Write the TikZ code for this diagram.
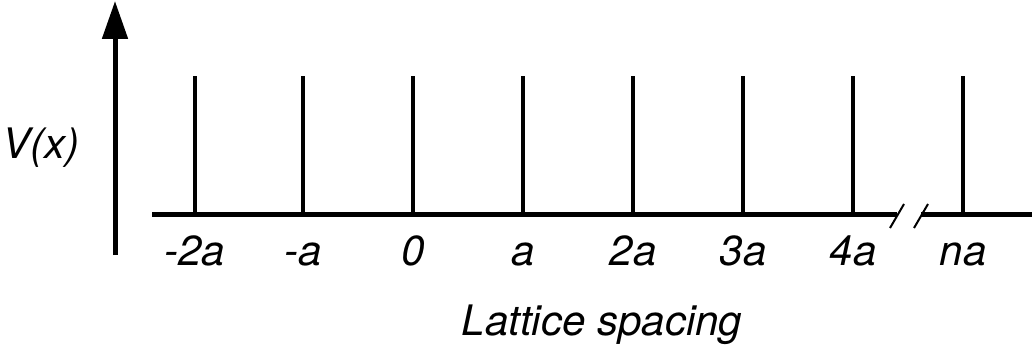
\documentclass[tikz,border=0pt]{standalone}
\usepackage{fontspec}
\setmainfont{TeX Gyre Heros}
\usetikzlibrary{arrows.meta}
\begin{document}
\begin{tikzpicture}[x=1pt,y=-1pt,
  lbl/.style={font=\fontsize{42}{48}\selectfont\itshape, anchor=base, inner sep=0pt},
  axisline/.style={line width=5pt},
  spike/.style={line width=4pt},
  brk/.style={line width=2pt},
  vaxis/.style={line width=5pt, -{Triangle[length=38pt,width=25pt]}}]
\useasboundingbox (0,0) rectangle (1032,353);
% vertical axis
\coordinate (vb) at (115,255);
\coordinate (vt) at (115,1);
\draw[vaxis] (vb) -- (vt);
\node[lbl] (vx) at (41,158) {V(x)};
% horizontal axis with break
\coordinate (h0) at (152,214);
\coordinate (h1) at (897,214);
\coordinate (h2) at (921,214);
\coordinate (h3) at (1032,214);
\draw[axisline] (h0) -- (h1);
\draw[axisline] (h2) -- (h3);
\coordinate (s1a) at (890,228); \coordinate (s1b) at (904,204);
\coordinate (s2a) at (914,228); \coordinate (s2b) at (928,204);
\draw[brk] (s1a) -- (s1b);
\draw[brk] (s2a) -- (s2b);
% spikes and labels
\foreach \x/\t/\n in {195/-2a/m2, 303/-a/m1, 413/0/z, 523/a/p1, 633/2a/p2, 743/3a/p3, 853/4a/p4, 963/na/pn}{
  \coordinate (b\n) at (\x,214);
  \coordinate (t\n) at (\x,76);
  \draw[spike] (b\n) -- (t\n);
  \node[lbl] (l\n) at (\x,265) {\t};
}
\node[lbl] (xl) at (602,335) {Lattice spacing};
\end{tikzpicture}
\end{document}
